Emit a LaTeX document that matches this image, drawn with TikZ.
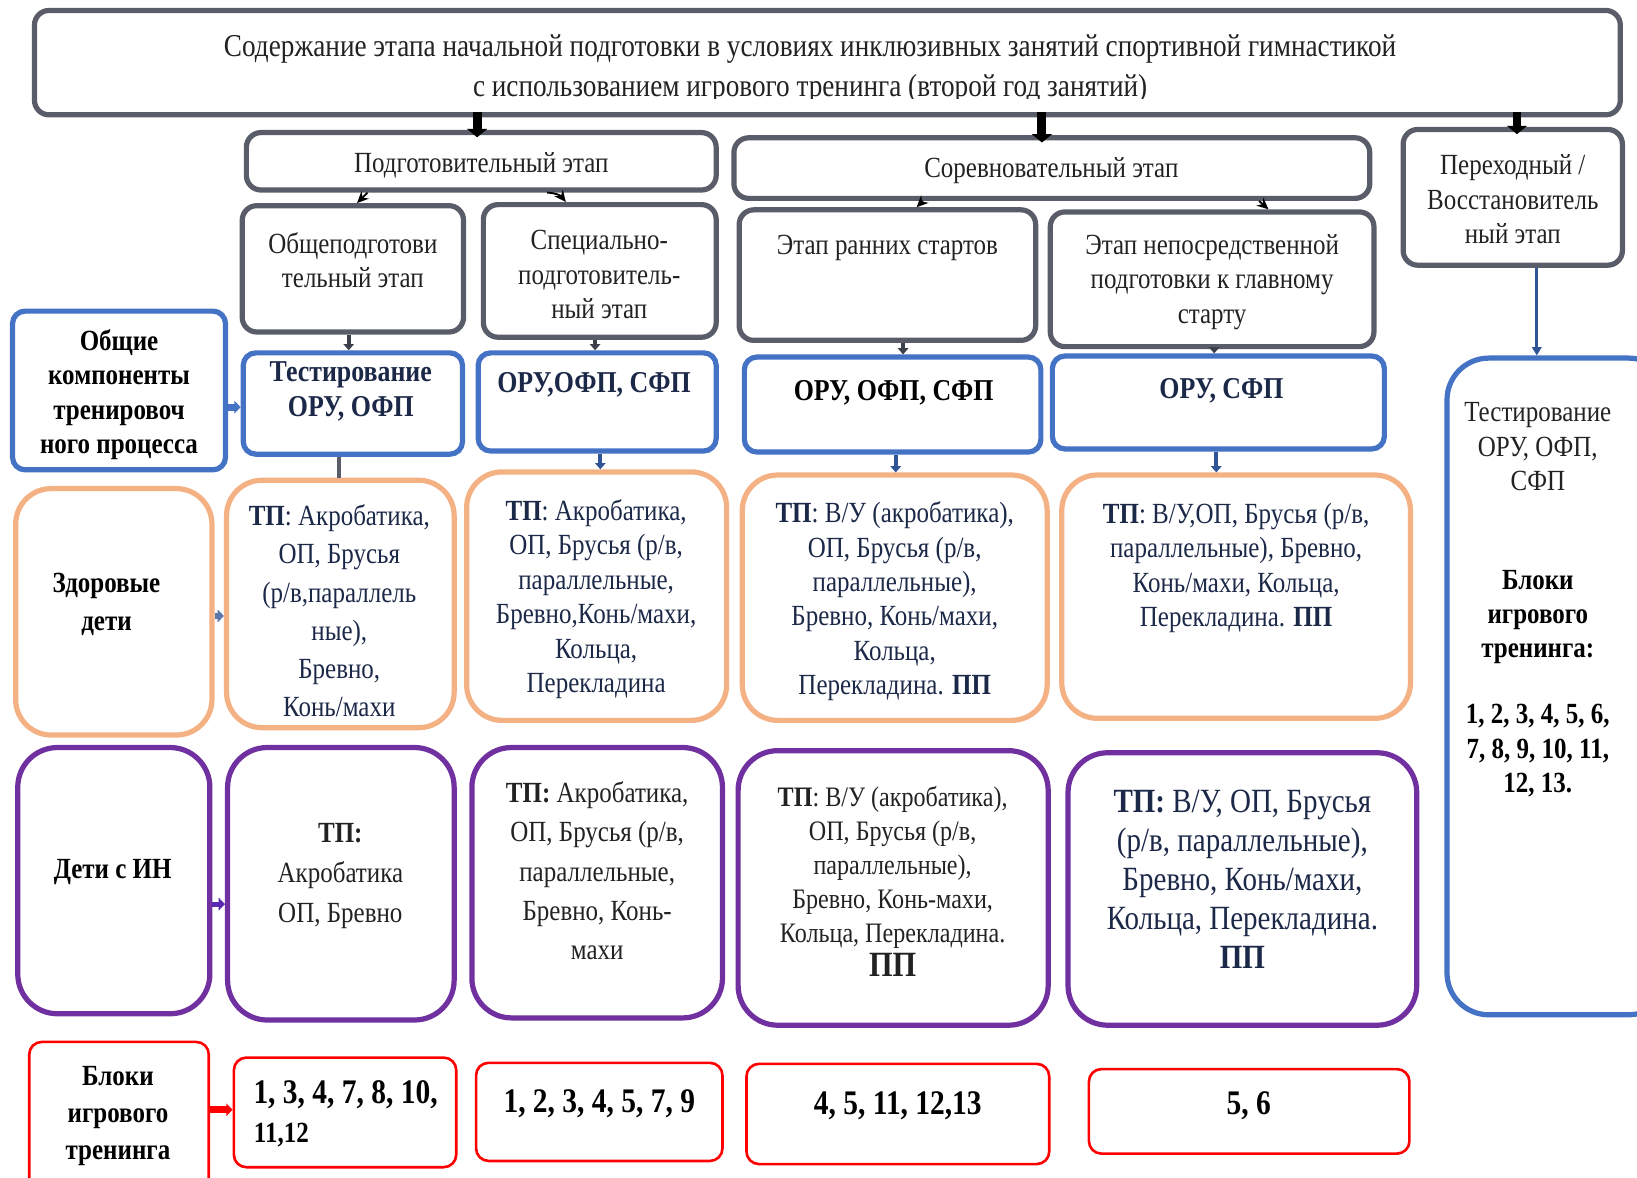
\documentclass[tikz,border=0pt]{standalone}
\usepackage{fontspec}
\setmainfont{Liberation Serif}[FakeStretch=0.855]
\usetikzlibrary{arrows.meta,calc}
\definecolor{cgray}{RGB}{88,93,105}
\definecolor{cdgray}{RGB}{60,64,74}
\definecolor{cblue}{RGB}{68,114,196}
\definecolor{cdblue}{RGB}{47,85,151}
\definecolor{corange}{RGB}{244,177,131}
\definecolor{cpurple}{RGB}{112,48,160}
\definecolor{cred}{RGB}{255,0,0}
\definecolor{cnavy}{RGB}{28,40,72}
\definecolor{ctitle}{RGB}{34,34,34}
\newcommand\bx[6]{\node[#1, minimum width={(#4)-(#2)}, minimum height={(#5)-(#3)}] (#6) at ({((#2)+(#4))/2},{((#3)+(#5))/2}) {};}
\begin{document}
\begin{tikzpicture}[x=1pt,y=-1pt,
  gbox/.style={draw=cgray, line width=5pt, rounded corners=14pt, inner sep=0pt},
  bbox/.style={draw=cblue, line width=5pt, rounded corners=12pt, inner sep=0pt},
  obox/.style={draw=corange, line width=5pt, rounded corners=34pt, inner sep=0pt},
  pbox/.style={draw=cpurple, line width=5pt, rounded corners=38pt, inner sep=0pt},
  rbox/.style={draw=cred, line width=2.5pt, rounded corners=12pt, inner sep=0pt},
  txt/.style={align=center, inner sep=0pt, text=ctitle, font=\fontsize{28}{33}\selectfont},
  body/.style={txt, text=cnavy},
  lbl/.style={txt, text=black, font=\fontsize{28}{33}\selectfont\bfseries},
  num/.style={txt, text=black, font=\fontsize{33}{38}\selectfont\bfseries},
  bigarr/.style={black, line width=8.5pt, -{Triangle[length=8pt,width=19pt]}},
  smarr/.style={black, line width=1.8pt, -{Stealth[length=11pt,width=10pt]}},
  harr/.style={cdgray, line width=3.5pt, -{Triangle[length=6pt,width=10pt]}},
  blarr/.style={cdblue, line width=3.5pt, -{Triangle[length=6pt,width=10pt]}},
  sarr/.style={line width=7pt, -{Triangle[length=6pt,width=12pt]}}
]
\clip (0,0) rectangle (1568,1128);
% top
\bx{gbox}{33}{10}{1552}{110}{title}
\begin{scope}
\clip (33,10) rectangle (1552,94.5);
\node[txt, font=\fontsize{30.5}{38}\selectfont] (titlet) at (776,66) {Содержание этапа начальной подготовки в условиях инклюзивных занятий спортивной гимнастикой\\с использованием игрового тренинга (второй год занятий)};
\end{scope}
% stages
\bx{gbox}{236}{127}{686}{182}{podg}
\node[txt] (podgt) at (461,158) {Подготовительный этап};
\bx{gbox}{703}{132}{1312}{190}{sor}
\node[txt] (sort) at (1007,163) {Соревновательный этап};
\bx{gbox}{1344}{124}{1554}{254}{per}
\node[txt] (pert) at (1449,191) {Переходный /\\Восстановитель\\ный этап};
\bx{gbox}{232}{197}{444}{318}{obsh}
\node[txt] (obsht) at (338,249) {Общеподготови\\тельный этап};
\bx{gbox}{463}{196}{686}{323}{spec}
\node[txt] (spect) at (574,263) {Специально-\\подготовитель-\\ный этап};
\bx{gbox}{708}{201}{992}{326}{rann}
\node[txt] (rannt) at (850,237) {Этап ранних стартов};
\bx{gbox}{1006}{203}{1316}{332}{nepo}
\node[txt] (nepot) at (1161,270) {Этап непосредственной\\подготовки к главному\\старту};
% blue row
\bx{bbox}{12}{298}{216}{450}{lab1}
\node[lbl] (lab1t) at (114,378) {Общие\\компоненты\\тренировоч\\ного процесса};
\bx{bbox}{233}{338}{443}{435}{b1}
\node[body, font=\fontsize{29}{33}\selectfont\bfseries] (b1t) at (336,375) {Тестирование\\ОРУ, ОФП};
\bx{bbox}{458}{338}{686}{432}{b2}
\node[body, font=\fontsize{29}{33}\selectfont\bfseries] (b2t) at (569,369) {ОРУ,ОФП, СФП};
\bx{bbox}{713}{342}{997}{433}{b3}
\node[lbl, font=\fontsize{29}{33}\selectfont\bfseries] (b3t) at (856,376) {ОРУ, ОФП, СФП};
\bx{bbox}{1008}{341}{1326}{430}{b4}
\node[body, font=\fontsize{29}{33}\selectfont\bfseries] (b4t) at (1170,374) {ОРУ, СФП};
\bx{bbox, rounded corners=40pt}{1386}{343}{1600}{972}{right}
\node[txt] (rightt1) at (1473,428) {Тестирование\\ОРУ, ОФП,\\СФП};
\node[lbl] (rightt2) at (1473,591) {Блоки\\игрового\\тренинга:};
\node[lbl] (rightt3) at (1473,719) {1, 2, 3, 4, 5, 6,\\7, 8, 9, 10, 11,\\12, 13.};
% orange row
\bx{obox}{15}{468}{203}{704}{lab2}
\node[lbl, font=\fontsize{28}{36}\selectfont\bfseries] (lab2t) at (102,579) {Здоровые\\дети};
\bx{obox}{217}{460}{435}{697}{o1}
\node[body, font=\fontsize{28}{36.5}\selectfont] (o1t) at (325,585) {\textbf{ТП}: Акробатика,\\ОП, Брусья\\(р/в,параллель\\ные),\\Бревно,\\Конь/махи};
\bx{obox}{447}{452}{696}{690}{o2}
\node[body] (o2t) at (571,574) {\textbf{ТП}: Акробатика,\\ОП, Брусья (р/в,\\параллельные,\\Бревно,Конь/махи,\\Кольца,\\Перекладина};
\bx{obox}{711}{455}{1003}{690}{o3}
\node[body] (o3t) at (857,576) {\textbf{ТП}: В/У (акробатика),\\ОП, Брусья (р/в,\\параллельные),\\Бревно, Конь/махи,\\Кольца,\\Перекладина. \textbf{ПП}};
\bx{obox}{1017}{455}{1351}{688}{o4}
\node[body] (o4t) at (1184,544) {\textbf{ТП}: В/У,ОП, Брусья (р/в,\\параллельные), Бревно,\\Конь/махи, Кольца,\\Перекладина. \textbf{ПП}};
% purple row
\bx{pbox}{17}{716}{201}{971}{lab3}
\node[lbl] (lab3t) at (108,835) {Дети с ИН};
\bx{pbox}{218}{716}{435}{977}{p1}
\node[body, text=ctitle, font=\fontsize{28}{38}\selectfont] (p1t) at (326,839) {\textbf{ТП:}\\Акробатика\\ОП, Бревно};
\bx{pbox}{452}{716}{692}{975}{p2}
\node[body, text=ctitle, font=\fontsize{28}{37.5}\selectfont] (p2t) at (572,834) {\textbf{ТП:} Акробатика,\\ОП, Брусья (р/в,\\параллельные,\\Бревно, Конь-\\махи};
\bx{pbox}{707}{719}{1004}{982}{p3}
\node[body, text=ctitle, font=\fontsize{27}{32.5}\selectfont] (p3t) at (855,844) {\textbf{ТП}: В/У (акробатика),\\ОП, Брусья (р/в,\\параллельные),\\Бревно, Конь-махи,\\Кольца, Перекладина.\\{\fontsize{34}{36}\selectfont\textbf{ПП}}};
\bx{pbox}{1023}{721}{1357}{982}{p4}
\node[body, font=\fontsize{32.5}{37.5}\selectfont] (p4t) at (1190,842) {\textbf{ТП:} В/У, ОП, Брусья\\(р/в, параллельные),\\Бревно, Конь/махи,\\Кольца, Перекладина.\\\textbf{ПП}};
% red row
\bx{rbox}{28}{998}{200}{1140}{lab4}
\node[lbl, font=\fontsize{28}{35.5}\selectfont\bfseries] (lab4t) at (113,1069) {Блоки\\игрового\\тренинга};
\bx{rbox}{224}{1013}{437}{1118}{r1}
\node[num] (r1t) at (331,1049) {1, 3, 4, 7, 8, 10,};
\node[num, font=\fontsize{28}{32}\selectfont\bfseries, anchor=west] (r1u) at (243,1087) {11,12};
\bx{rbox}{456}{1018}{692}{1112}{r2}
\node[num] (r2t) at (574,1057) {1, 2, 3, 4, 5, 7, 9};
\bx{rbox}{715}{1019}{1005}{1115}{r3}
\node[num] (r3t) at (860,1059) {4, 5, 11, 12,13};
\bx{rbox}{1043}{1024}{1350}{1105}{r4}
\node[num] (r4t) at (1196,1059) {5, 6};
% connectors
\draw[bigarr] ([yshift=5pt]457,0 |- title.south) -- ([yshift=-7pt]457,0 |- podg.north);
\draw[bigarr] ([yshift=5pt]998,0 |- title.south) -- ([yshift=-7pt]998,0 |- sor.north);
\draw[bigarr] ([yshift=5pt]1453,0 |- title.south) -- ([yshift=-7pt]1453,0 |- per.north);
\draw[smarr] (352,0 |- podg.south) -- (342,0 |- obsh.north);
\draw[smarr] (524,0 |- podg.south) to[bend left=25] (542,0 |- spec.north);
\draw[smarr] (884,0 |- sor.south) -- (878,0 |- rann.north);
\draw[smarr] (1206,0 |- sor.south) -- (1215,0 |- nepo.north);
\draw[harr] (334,0 |- obsh.south) -- (334,0 |- b1.north);
\draw[harr] (570,0 |- spec.south) -- (570,0 |- b2.north);
\draw[harr] (865,0 |- rann.south) -- (865,0 |- b3.north);
\draw[harr] (1163,0 |- nepo.south) -- (1163,0 |- b4.north);
\draw[blarr] (575,0 |- b2.south) -- (575,0 |- o2.north);
\draw[blarr] (858,0 |- b3.south) -- (858,0 |- o3.north);
\draw[blarr] (1165,0 |- b4.south) -- (1165,0 |- o4.north);
\draw[cgray, line width=4pt] (325,0 |- b1.south) -- (325,0 |- o1.north);
\draw[sarr, cblue] (lab1.east |- 0,390) -- (b1.west |- 0,390);
\draw[sarr, cblue!60!gray, line width=5pt] (lab2.east |- 0,590) -- (o1.west |- 0,590);
\draw[sarr, cpurple!80!blue, line width=5pt] (lab3.east |- 0,866) -- (p1.west |- 0,866);
\draw[sarr, cred] (lab4.east |- 0,1063) -- (r1.west |- 0,1063);
\draw[cdblue, line width=3pt, -{Triangle[length=8pt,width=9pt]}] (1472,0 |- per.south) -- (1472,0 |- right.north);
\end{tikzpicture}
\end{document}
